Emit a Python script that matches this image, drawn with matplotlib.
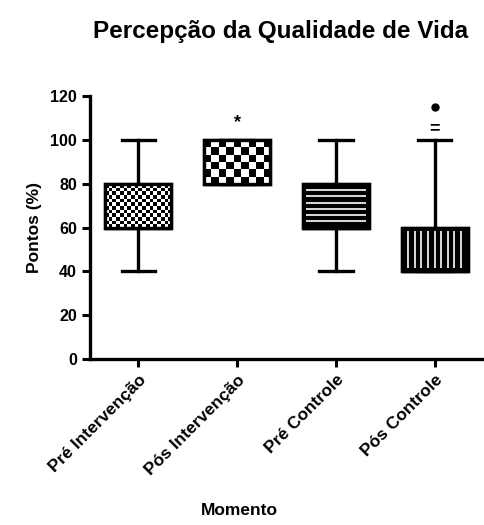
import matplotlib.pyplot as plt
import numpy as np

plt.rcParams['font.family'] = ['Liberation Sans', 'DejaVu Sans']
plt.rcParams['font.weight'] = 'bold'

# Box summary for each moment (score in %)
labels = ["Pré Intervenção", "Pós Intervenção", "Pré Controle", "Pós Controle"]
whislo = [40, 80, 40, 40]
q1 = [60, 80, 60, 40]
med = [60, 80, 60, 40]
q3 = [80, 100, 80, 60]
whishi = [100, 100, 100, 100]
fliers = [[], [], [], [115]]
marks = ["", "*", "", "="]
mark_y = [0, 108, 0, 105]

stats = [dict(label=l, whislo=a, q1=b, med=c, q3=d, whishi=e, fliers=f)
         for l, a, b, c, d, e, f in zip(labels, whislo, q1, med, q3, whishi, fliers)]

fig = plt.figure(figsize=(4.84, 5.25), dpi=100)
ax = fig.add_axes([0.186, 0.316, 0.814, 0.501])

pos = np.arange(1, len(labels) + 1)
lw = 2.4
bp = ax.bxp(stats, positions=pos, widths=0.67, capwidths=0.34, patch_artist=True,
            boxprops=dict(facecolor='black', edgecolor='black', linewidth=lw),
            whiskerprops=dict(color='black', linewidth=lw),
            capprops=dict(color='black', linewidth=lw),
            medianprops=dict(color='black', linewidth=lw),
            flierprops=dict(marker='o', markerfacecolor='black', markeredgecolor='black', markersize=5))


def checker(ax, patch, x0, x1, y0, y1, ncols, nrows):
    grid = (np.add.outer(np.arange(nrows), np.arange(ncols)) % 2).astype(float)
    im = ax.imshow(grid, extent=(x0, x1, y0, y1), cmap='gray', vmin=0, vmax=1,
                   interpolation='nearest', aspect='auto', zorder=2.5)
    im.set_clip_path(patch)


half = 0.335
# fine checkerboard, coarse checkerboard, horizontal stripes, vertical stripes
checker(ax, bp['boxes'][0], pos[0] - half, pos[0] + half, q1[0], q3[0], 18, 12)
checker(ax, bp['boxes'][1], pos[1] - half, pos[1] + half, q1[1], q3[1], 9, 6)
for yy in np.linspace(q1[2], q3[2], 8)[1:-1]:
    ax.hlines(yy, pos[2] - half + 0.03, pos[2] + half - 0.03, color='white', linewidth=1.2, zorder=2.5)
for xx in np.linspace(pos[3] - half, pos[3] + half, 11)[1:-1]:
    ax.vlines(xx, q1[3] + 1.5, q3[3] - 1.5, color='white', linewidth=1.2, zorder=2.5)

# outlines drawn over the fills
for i, p in enumerate(pos):
    ax.add_patch(plt.Rectangle((p - half, q1[i]), 2 * half, q3[i] - q1[i], fill=False,
                               edgecolor='black', linewidth=lw, zorder=3))

for p, m, y in zip(pos, marks, mark_y):
    if m:
        ax.text(p, y, m, ha='center', va='center', fontsize=13, fontweight='bold')

ax.set_xlim(0.51, 4.5)
ax.set_ylim(0, 120)
ax.set_yticks(range(0, 121, 20))
ax.set_xticks(pos)
ax.set_xticklabels(labels, rotation=45, ha='right', rotation_mode='anchor', fontsize=12.5)
ax.tick_params(axis='y', labelsize=11.5, width=2.2, length=6)
ax.tick_params(axis='x', width=2.2, length=6)
for s in ['top', 'right']:
    ax.spines[s].set_visible(False)
for s in ['left', 'bottom']:
    ax.spines[s].set_linewidth(2.4)

ax.set_ylabel("Pontos (%)", fontsize=12.5, fontweight='bold', labelpad=6)
fig.text(0.495, 0.028, "Momento", ha='center', va='center', fontsize=12.5, fontweight='bold')
fig.text(0.58, 0.94, "Percepção da Qualidade de Vida", ha='center', va='center',
         fontsize=17.5, fontweight='bold')

fig.savefig("out.png", dpi=100)
